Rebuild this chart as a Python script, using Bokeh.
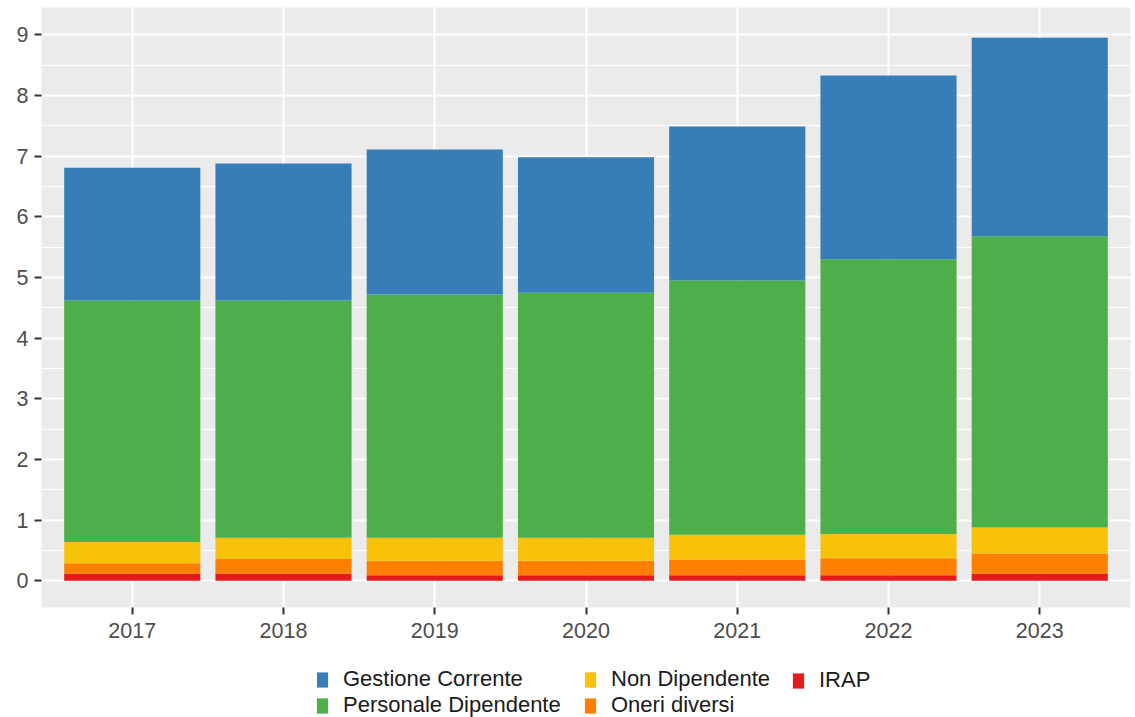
from bokeh.plotting import figure
from bokeh.layouts import column
from bokeh.models import ColumnDataSource, Legend, LegendItem, FixedTicker, SingleIntervalTicker, Range1d
from bokeh.embed import file_html
from bokeh.resources import INLINE

years = ["2017", "2018", "2019", "2020", "2021", "2022", "2023"]
irap = [0.12, 0.12, 0.09, 0.09, 0.09, 0.09, 0.12]
oneri_diversi = [0.17, 0.24, 0.24, 0.24, 0.26, 0.28, 0.33]
non_dipendente = [0.35, 0.35, 0.38, 0.38, 0.41, 0.40, 0.43]
personale_dipendente = [3.98, 3.91, 4.01, 4.04, 4.19, 4.53, 4.80]
gestione_corrente = [2.19, 2.26, 2.39, 2.23, 2.54, 3.03, 3.27]

series = ["IRAP", "Oneri diversi", "Non Dipendente", "Personale Dipendente", "Gestione Corrente"]
colors = ["#E41A1C", "#FF7F00", "#F9C20A", "#4DAF4A", "#377EB8"]

xs = list(range(1, len(years) + 1))
src = ColumnDataSource(dict(
    x=xs,
    **{"IRAP": irap, "Oneri diversi": oneri_diversi, "Non Dipendente": non_dipendente,
       "Personale Dipendente": personale_dipendente, "Gestione Corrente": gestione_corrente}))

FONT = "Liberation Sans"
TICK_FS = "21.5px"
LEG_FS = "22px"
W = 1135
H_MAIN = 645
H_LEG = 72

p = figure(width=W, height=H_MAIN, output_backend="svg", toolbar_location=None,
           x_range=Range1d(0.4, 7.6), y_range=Range1d(-0.44, 9.45),
           min_border_left=41, min_border_right=5, min_border_top=7, min_border_bottom=38)
p.background_fill_color = "#EBEBEB"
p.border_fill_color = "white"
p.outline_line_color = None

p.vbar_stack(series, x="x", width=0.9, source=src, color=colors, line_color=None)

# grids
p.xgrid.ticker = FixedTicker(ticks=xs)
p.xgrid.grid_line_color = "white"
p.xgrid.grid_line_width = 2
p.ygrid.ticker = SingleIntervalTicker(interval=1, num_minor_ticks=2)
p.ygrid.grid_line_color = "white"
p.ygrid.grid_line_width = 2
p.ygrid.minor_grid_line_color = "white"
p.ygrid.minor_grid_line_width = 1.2

# axes
p.xaxis.ticker = FixedTicker(ticks=xs)
p.xaxis.major_label_overrides = {x: y for x, y in zip(xs, years)}
p.yaxis.ticker = FixedTicker(ticks=list(range(0, 10)))
for ax in (p.xaxis, p.yaxis):
    ax.axis_line_color = None
    ax.major_tick_line_color = "#333333"
    ax.major_tick_line_width = 2
    ax.major_tick_in = 0
    ax.major_tick_out = 7
    ax.minor_tick_line_color = None
    ax.major_label_text_font = FONT
    ax.major_label_text_font_size = TICK_FS
    ax.major_label_text_color = "#4D4D4D"
p.xaxis.major_label_standoff = 8
p.yaxis.major_label_standoff = 6

# legend figure (below the chart)
lf = figure(width=W, height=H_LEG, output_backend="svg", toolbar_location=None,
            x_range=Range1d(0, 1), y_range=Range1d(0, 1),
            x_axis_location=None, y_axis_location=None,
            min_border_left=41, min_border_right=5, min_border_top=0, min_border_bottom=0)
lf.grid.visible = False
lf.outline_line_color = None
lf.background_fill_color = "white"
lf.border_fill_color = "white"

key = {}
for name, c in zip(series, colors):
    # key glyphs sit below the visible range: only their legend swatches show
    key[name] = lf.vbar(x=[0.5], top=[-5], bottom=[-6], width=0.1, color=c, line_color=None)

columns = [["Gestione Corrente", "Personale Dipendente"],
           ["Non Dipendente", "Oneri diversi"],
           ["IRAP"]]
col_x = [274, 542, 750]
ROW_H = 25
for names, cx in zip(columns, col_x):
    items = [LegendItem(label=n, renderers=[key[n]]) for n in names]
    vy = ROW_H * (2 - len(names)) - 1
    lg = Legend(items=items, orientation="vertical", location=(cx, vy),
                label_text_font=FONT, label_text_font_size=LEG_FS, label_text_color="#1A1A1A",
                label_text_line_height=0.9,
                glyph_width=14, glyph_height=19, label_standoff=14, spacing=0,
                padding=0, margin=0, border_line_color=None, background_fill_color=None,
                background_fill_alpha=0, label_height=19)
    lf.add_layout(lg, "center")

open("out.html", "w").write(file_html(column(p, lf, spacing=0), INLINE))
